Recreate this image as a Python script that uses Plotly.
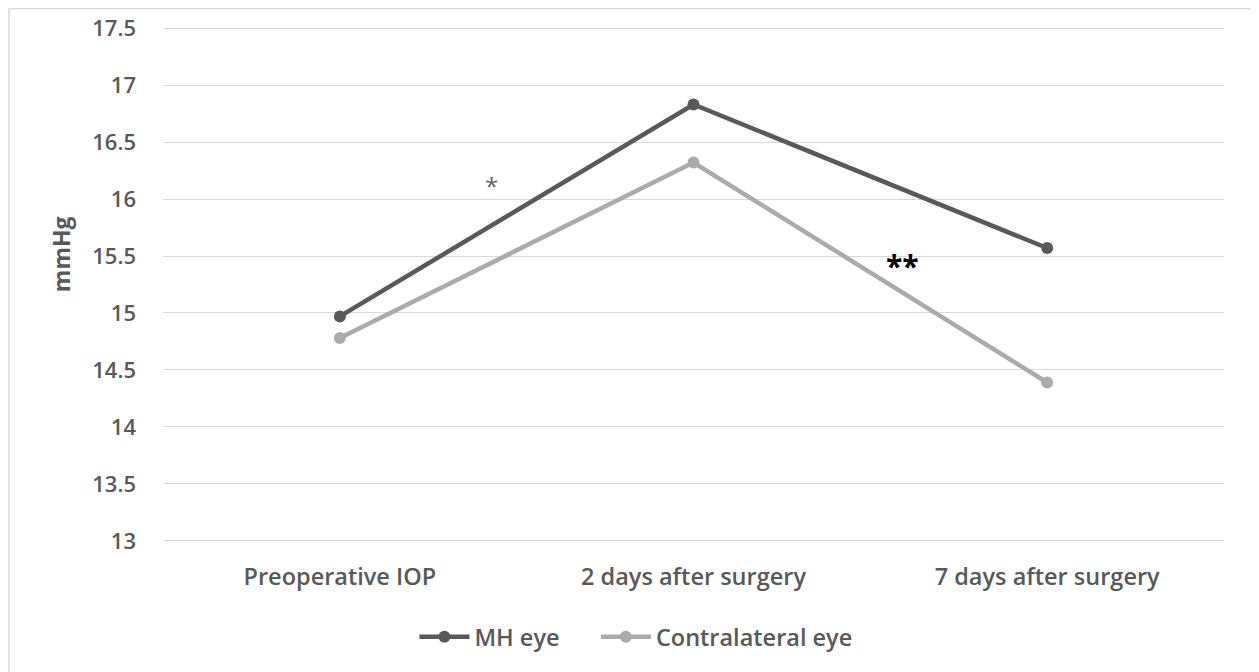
import plotly.graph_objects as go

categories = ["Preoperative IOP", "2 days after surgery", "7 days after surgery"]
mh_eye = [14.97, 16.83, 15.57]
contralateral_eye = [14.78, 16.32, 14.39]
y_ticks = [13, 13.5, 14, 14.5, 15, 15.5, 16, 16.5, 17, 17.5]
y_tick_labels = ["13", "13.5", "14", "14.5", "15", "15.5", "16", "16.5", "17", "17.5"]
y_title = "mmHg"

FONT = "Open Sans, Noto Sans, DejaVu Sans, sans-serif"
TXT = "#595959"

fig = go.Figure()
fig.add_trace(go.Scatter(
    x=categories, y=mh_eye, name="MH eye", mode="lines+markers", legend="legend",
    line=dict(color="#595959", width=4.5), marker=dict(size=12, color="#595959")))
fig.add_trace(go.Scatter(
    x=categories, y=contralateral_eye, name="Contralateral eye", mode="lines+markers",
    legend="legend2",
    line=dict(color="#ababab", width=4.5), marker=dict(size=12, color="#ababab")))

fig.add_annotation(x=0.43, y=16.12, xref="x", yref="y", text="*", showarrow=False,
                   font=dict(size=24, color="#666666", family=FONT))
fig.add_annotation(x=1.592, y=15.42, xref="x", yref="y", text="<b>**</b>", showarrow=False,
                   font=dict(size=30, color="#000000", family=FONT))
fig.add_annotation(x=-0.0961, y=0.559, xref="paper", yref="paper", text="<b>" + y_title + "</b>",
                   textangle=-90, showarrow=False, xanchor="center", yanchor="middle",
                   font=dict(size=23, color=TXT, family=FONT))

fig.add_shape(type="rect", xref="paper", yref="paper",
              x0=-0.1451, x1=1.0292, y0=-0.27, y1=1.036,
              line=dict(color="#d9d9d9", width=1.5), fillcolor="rgba(0,0,0,0)", layer="below")

leg_common = dict(orientation="h", y=-0.1845, yanchor="middle", xanchor="left",
                  font=dict(size=23.5, color=TXT, weight=600), itemwidth=50,
                  bgcolor="rgba(0,0,0,0)")

fig.update_layout(
    width=1251, height=664,
    margin=dict(l=155, r=35, t=19, b=130, autoexpand=False),
    paper_bgcolor="white", plot_bgcolor="white",
    font=dict(family=FONT, color=TXT, size=21),
    showlegend=True,
    legend=dict(x=0.237, **leg_common),
    legend2=dict(x=0.408, **leg_common),
    xaxis=dict(type="category", range=[-0.5, 2.5], showgrid=False, showline=False,
               ticks="", tickfont=dict(size=23.5, color=TXT, weight=600), zeroline=False,
               ticklabelstandoff=18, automargin=False),
    yaxis=dict(range=[12.99, 17.51], tickvals=y_ticks, ticktext=y_tick_labels,
               showgrid=True, gridcolor="#d9d9d9", gridwidth=1, zeroline=False,
               showline=False, ticks="", ticklabelstandoff=26, automargin=False,
               tickfont=dict(size=22, color=TXT, weight=600)),
)

fig.write_html("out.html")
